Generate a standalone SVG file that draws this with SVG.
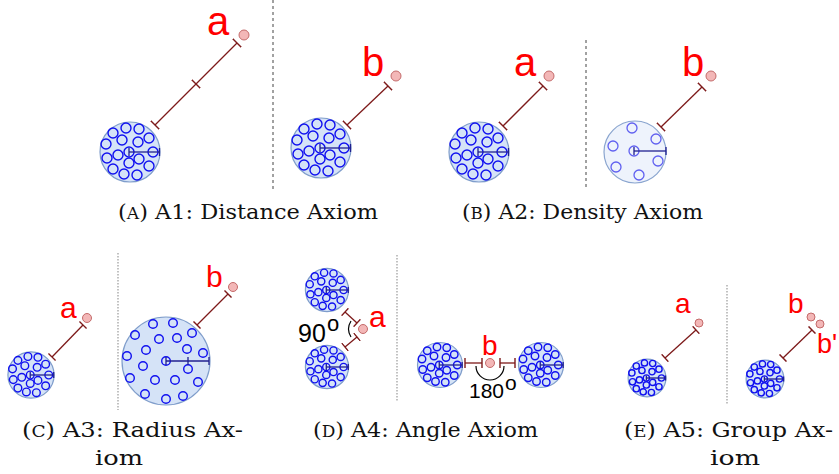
<svg xmlns="http://www.w3.org/2000/svg" xmlns:xlink="http://www.w3.org/1999/xlink" width="839" height="474" viewBox="0 0 839 474">
<style>
.outer{fill:#d5e3f7;stroke:#7f9dcb;stroke-width:1.2}
.inner{fill:none;stroke:#1010f0;stroke-width:1.4}
.rad{stroke:#202090;stroke-width:1.3;fill:none}
.link{stroke:#7d1a1a;stroke-width:1.3;fill:none}
.pt{fill:#f3b7b7;stroke:#c46b6b;stroke-width:1}
.lbl{fill:#ff0000;font-family:"Liberation Sans",Arial,sans-serif}
.ang{fill:#000;font-family:"Liberation Sans",Arial,sans-serif}
.arc{stroke:#000;stroke-width:1.2;fill:none}
.cap{fill:#111;font-family:"DejaVu Serif","Liberation Serif",serif;font-size:21px}
.sep{stroke:#444;stroke-width:1;stroke-dasharray:3 3}
.sep2{stroke:#999;stroke-width:1.2;stroke-dasharray:1.5 1.5}
</style>
<defs>
<marker id="tick" viewBox="-1 -6 2 12" refX="0" refY="0" markerWidth="2" markerHeight="12" markerUnits="userSpaceOnUse" orient="auto">
<path d="M0,-6V6" stroke="#7d1a1a" stroke-width="1.4"/>
</marker>
<marker id="tickS" viewBox="-1 -5 2 10" refX="0" refY="0" markerWidth="2" markerHeight="10" markerUnits="userSpaceOnUse" orient="auto">
<path d="M0,-5V5" stroke="#7d1a1a" stroke-width="1.4"/>
</marker>
<marker id="rtick" viewBox="-1 -4 2 8" refX="0" refY="0" markerWidth="2" markerHeight="8" markerUnits="userSpaceOnUse" orient="auto">
<path d="M0,-4V4" stroke="#202090" stroke-width="1.3"/>
</marker>
<g id="cluster">
<circle class="outer" r="30" vector-effect="non-scaling-stroke"/>
<g class="inner">
<circle cx="-4" cy="-24" r="5" vector-effect="non-scaling-stroke"/>
<circle cx="9" cy="-23" r="5" vector-effect="non-scaling-stroke"/>
<circle cx="-17" cy="-19" r="5" vector-effect="non-scaling-stroke"/>
<circle cx="-8" cy="-12" r="5" vector-effect="non-scaling-stroke"/>
<circle cx="19" cy="-14" r="5" vector-effect="non-scaling-stroke"/>
<circle cx="8" cy="-10" r="5" vector-effect="non-scaling-stroke"/>
<circle cx="-24" cy="-8" r="5" vector-effect="non-scaling-stroke"/>
<circle cx="-1" cy="0" r="5" vector-effect="non-scaling-stroke"/>
<circle cx="23" cy="0" r="5" vector-effect="non-scaling-stroke"/>
<circle cx="-12" cy="3" r="5" vector-effect="non-scaling-stroke"/>
<circle cx="9" cy="7" r="5" vector-effect="non-scaling-stroke"/>
<circle cx="-23" cy="6" r="5" vector-effect="non-scaling-stroke"/>
<circle cx="-1" cy="11" r="5" vector-effect="non-scaling-stroke"/>
<circle cx="19" cy="14" r="5" vector-effect="non-scaling-stroke"/>
<circle cx="-17" cy="17" r="5" vector-effect="non-scaling-stroke"/>
<circle cx="-6" cy="22" r="5" vector-effect="non-scaling-stroke"/>
<circle cx="7" cy="23" r="5" vector-effect="non-scaling-stroke"/>
</g>
<path class="rad" d="M-1,0H29.5" vector-effect="non-scaling-stroke"/>
<path d="M-1,-4V4M29.5,-4V4" stroke="#202090" stroke-width="1.3" vector-effect="non-scaling-stroke"/>
</g>
</defs>
<rect width="839" height="474" fill="#fff"/>

<!-- separators -->
<g id="separators">
<line class="sep" x1="273" y1="0" x2="273" y2="190"/>
<line class="sep" x1="586" y1="40" x2="586" y2="190"/>
<line class="sep2" x1="118" y1="253" x2="118" y2="410"/>
<line class="sep2" x1="397" y1="255" x2="397" y2="402"/>
<line class="sep2" x1="727" y1="285" x2="727" y2="405"/>
</g>

<!-- nodes -->
<g id="A1-cluster"><use xlink:href="#cluster" href="#cluster" transform="translate(130,152)"/></g>
<g id="A1-a"><circle class="pt" cx="244" cy="35" r="5"/><text class="lbl" x="207" y="35" font-size="40">a</text></g>
<g id="A1-cluster-b"><use xlink:href="#cluster" href="#cluster" transform="translate(321,148)"/></g>
<g id="A1-b"><circle class="pt" cx="396" cy="76" r="5"/><text class="lbl" x="362" y="76" font-size="40">b</text></g>

<g id="A2-cluster"><use xlink:href="#cluster" href="#cluster" transform="translate(479,152)"/></g>
<g id="A2-a"><circle class="pt" cx="549" cy="76" r="5"/><text class="lbl" x="514" y="76" font-size="40">a</text></g>
<g id="A2-sparse">
<circle cx="635" cy="152" r="31" fill="#eef3fc" stroke="#8aa5cf" stroke-width="1.2"/>
<g fill="none" stroke="#6060f0" stroke-width="1.3">
<circle cx="632" cy="128" r="5"/><circle cx="613" cy="146" r="5"/><circle cx="656" cy="139" r="5"/>
<circle cx="616" cy="167" r="5"/><circle cx="639" cy="175" r="5"/><circle cx="658" cy="161" r="5"/>
<circle cx="634" cy="151" r="5"/>
</g>
<path class="rad" d="M634,151H666" marker-start="url(#rtick)" marker-end="url(#rtick)"/>
</g>
<g id="A2-b"><circle class="pt" cx="711" cy="76" r="5"/><text class="lbl" x="682" y="76" font-size="40">b</text></g>

<g id="A3-cluster"><use xlink:href="#cluster" href="#cluster" transform="translate(31,375) scale(0.77)"/></g>
<g id="A3-a"><circle class="pt" cx="87" cy="318" r="4.5"/><text class="lbl" x="60" y="318" font-size="30">a</text></g>
<g id="A3-big">
<circle class="outer" cx="166" cy="361" r="44"/>
<g class="inner">
<circle cx="153" cy="324" r="4.3"/><circle cx="173" cy="323" r="4.3"/><circle cx="135" cy="335" r="4.3"/>
<circle cx="159" cy="339" r="4.3"/><circle cx="177" cy="338" r="4.3"/><circle cx="192" cy="333" r="4.3"/>
<circle cx="146" cy="350" r="4.3"/><circle cx="187" cy="349" r="4.3"/><circle cx="203" cy="353" r="4.3"/>
<circle cx="127" cy="356" r="4.3"/><circle cx="166" cy="361" r="4.3"/><circle cx="143" cy="366" r="4.3"/>
<circle cx="188" cy="369" r="4.3"/><circle cx="130" cy="378" r="4.3"/><circle cx="155" cy="380" r="4.3"/>
<circle cx="175" cy="380" r="4.3"/><circle cx="198" cy="382" r="4.3"/><circle cx="145" cy="394" r="4.3"/>
<circle cx="166" cy="399" r="4.3"/><circle cx="183" cy="396" r="4.3"/>
</g>
<path class="rad" d="M166,361L188,361L209,361" marker-start="url(#rtick)" marker-mid="url(#rtick)" marker-end="url(#rtick)"/>
</g>
<g id="A3-b"><circle class="pt" cx="233" cy="287" r="4.5"/><text class="lbl" x="206" y="287" font-size="30">b</text></g>

<g id="A4-top"><use xlink:href="#cluster" href="#cluster" transform="translate(327,290) scale(0.72)"/></g>
<g id="A4-bottom"><use xlink:href="#cluster" href="#cluster" transform="translate(327,367) scale(0.72)"/></g>
<g id="A4-a"><circle class="pt" cx="363" cy="329" r="4.5"/><text class="lbl" x="369" y="327" font-size="30">a</text></g>
<g id="A4-90"><text class="ang" x="298" y="342" font-size="25">90</text><text class="ang" x="327" y="331" font-size="22">o</text></g>
<g id="A4-left"><use xlink:href="#cluster" href="#cluster" transform="translate(440,365) scale(0.75)"/></g>
<g id="A4-right"><use xlink:href="#cluster" href="#cluster" transform="translate(541,365) scale(0.75)"/></g>
<g id="A4-b"><circle class="pt" cx="490" cy="363" r="4.5"/><text class="lbl" x="482" y="355" font-size="28">b</text></g>
<g id="A4-180"><text class="ang" x="469" y="398" font-size="21">180</text><text class="ang" x="505" y="390" font-size="21">o</text></g>

<g id="A5-cluster-a"><use xlink:href="#cluster" href="#cluster" transform="translate(647,378) scale(0.63)"/></g>
<g id="A5-a"><circle class="pt" cx="699" cy="323" r="4"/><text class="lbl" x="675" y="313" font-size="28">a</text></g>
<g id="A5-cluster-b"><use xlink:href="#cluster" href="#cluster" transform="translate(765,379) scale(0.63)"/></g>
<g id="A5-b"><circle class="pt" cx="811" cy="317" r="4"/><text class="lbl" x="788" y="313" font-size="28">b</text></g>
<g id="A5-b2"><circle class="pt" cx="820" cy="324" r="4"/><text class="lbl" x="817" y="353" font-size="27">b'</text></g>

<!-- connectors -->
<g id="connectors">
<path class="link" d="M155,125L196,84L237,43" marker-start="url(#tick)" marker-mid="url(#tick)" marker-end="url(#tick)"/>
<path class="link" d="M347,125L388,86" marker-start="url(#tick)" marker-end="url(#tick)"/>
<path class="link" d="M503,126L543,86" marker-start="url(#tick)" marker-end="url(#tick)"/>
<path class="link" d="M661,127L702,87" marker-start="url(#tick)" marker-end="url(#tick)"/>
<path class="link" d="M52,357L83,325" marker-start="url(#tickS)" marker-end="url(#tickS)"/>
<path class="link" d="M197,325L228,294" marker-start="url(#tickS)" marker-end="url(#tickS)"/>
<path class="link" d="M345,312L357,323" marker-start="url(#tickS)" marker-end="url(#tickS)"/>
<path class="link" d="M345,347L357,337" marker-start="url(#tickS)" marker-end="url(#tickS)"/>
<path class="arc" d="M351,321A15,15 0 0 0 351,337"/>
<path class="link" d="M465,363L482,363" marker-start="url(#tickS)" marker-end="url(#tickS)"/>
<path class="link" d="M500,363L515,363" marker-start="url(#tickS)" marker-end="url(#tickS)"/>
<path class="arc" d="M476,366A14,14 0 0 0 504,366"/>
<path class="link" d="M665,358L696,330" marker-start="url(#tickS)" marker-end="url(#tickS)"/>
<path class="link" d="M783,358L812,330" marker-start="url(#tickS)" marker-end="url(#tickS)"/>
</g>

<!-- captions -->
<g id="captions">
<text class="cap" x="118" y="219" textLength="260" lengthAdjust="spacingAndGlyphs">(<tspan font-size="16">A</tspan>) A1: Distance Axiom</text>
<text class="cap" x="462" y="219" textLength="241" lengthAdjust="spacingAndGlyphs">(<tspan font-size="16">B</tspan>) A2: Density Axiom</text>
<text class="cap" x="22" y="437" textLength="221" lengthAdjust="spacingAndGlyphs">(<tspan font-size="16">C</tspan>) A3: Radius Ax-</text>
<text class="cap" x="95" y="465" textLength="48" lengthAdjust="spacingAndGlyphs">iom</text>
<text class="cap" x="313" y="437" textLength="225" lengthAdjust="spacingAndGlyphs">(<tspan font-size="16">D</tspan>) A4: Angle Axiom</text>
<text class="cap" x="624" y="437" textLength="209" lengthAdjust="spacingAndGlyphs">(<tspan font-size="16">E</tspan>) A5:  Group Ax-</text>
<text class="cap" x="710" y="465" textLength="50" lengthAdjust="spacingAndGlyphs">iom</text>
</g>
</svg>
